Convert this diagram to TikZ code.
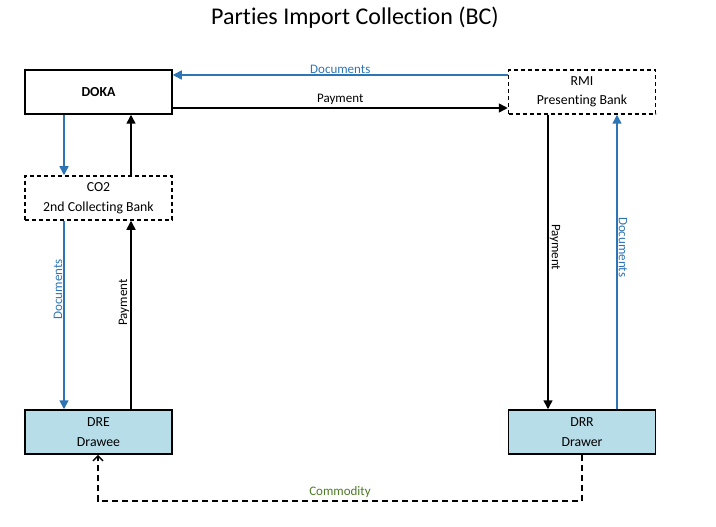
\documentclass[tikz,border=0pt]{standalone}
\usepackage{fontspec}
\setmainfont{Carlito}[Ligatures=NoCommon]
\usetikzlibrary{arrows.meta,positioning}
\definecolor{docblue}{HTML}{2E75B6}
\definecolor{drfill}{HTML}{B7DDE8}
\definecolor{comgreen}{HTML}{4F7A28}
\begin{document}
\begin{tikzpicture}[x=1pt,y=-1pt,
  box/.style={draw,line width=1.5pt,minimum width=147pt,minimum height=44pt,inner sep=0pt,align=center,font=\fontsize{13.8}{19.5}\selectfont},
  dbox/.style={box,dash pattern=on 4pt off 3pt},
  drbox/.style={box,fill=drfill},
  arr/.style={line width=1.5pt,-{Triangle[length=9pt,width=9pt]}},
  docarr/.style={arr,docblue},
  lab/.style={font=\fontsize{13}{15}\selectfont,inner sep=1pt},
  doclab/.style={lab,text=docblue}]
\useasboundingbox (0,0) rectangle (716,527);
\node[font=\fontsize{24}{28}\selectfont] (title) at (355,18) {Parties Import Collection (BC)};
\node[box,font=\fontsize{13.8}{17}\selectfont\bfseries] (doka) at (98.5,92) {DOKA};
\node[dbox] (co2) at (98.5,198) {CO2\\2nd Collecting Bank};
\node[dbox] (rmi) at (582,92) {RMI\\Presenting Bank};
\node[drbox] (dre) at (98.5,432) {DRE\\Drawee};
\node[drbox] (drr) at (582,432) {DRR\\Drawer};
% top horizontal
\draw[docarr] ([yshift=17pt]rmi.west) -- node[doclab,above=0pt]{Documents} ([yshift=17pt]doka.east);
\draw[arr] ([yshift=-16pt]doka.east) -- node[lab,above=2pt]{Payment} ([yshift=-16pt]rmi.west);
% DOKA <-> CO2
\draw[docarr] ([xshift=-34.5pt]doka.south) -- ([xshift=-34.5pt]co2.north);
\draw[arr] ([xshift=32.5pt]co2.north) -- ([xshift=32.5pt]doka.south);
% CO2 <-> DRE
\draw[docarr] ([xshift=-34.5pt]co2.south) -- node[doclab,rotate=90,above=3pt,pos=0.38]{Documents} ([xshift=-34.5pt]dre.north);
\draw[arr] ([xshift=32.5pt]dre.north) -- node[lab,rotate=90,above=3pt,pos=0.55]{Payment} ([xshift=32.5pt]co2.south);
% RMI <-> DRR
\draw[arr] ([xshift=-34pt]rmi.south) -- node[lab,rotate=-90,above=3pt,pos=0.46]{Payment} ([xshift=-34pt]drr.north);
\draw[docarr] ([xshift=35pt]drr.north) -- node[doclab,rotate=-90,above=3pt,pos=0.54]{Documents} ([xshift=35pt]rmi.south);
% commodity
\coordinate (c1) at (582,501);
\coordinate (c2) at (98,501);
\draw[line width=1.5pt,dash pattern=on 6pt off 4pt,-{Straight Barb[length=5pt,width=10pt]}]
  (drr.south) -- (c1) -- node[lab,text=comgreen,above=2pt]{Commodity} (c2) -- (dre.south -| c2);
\end{tikzpicture}
\end{document}
